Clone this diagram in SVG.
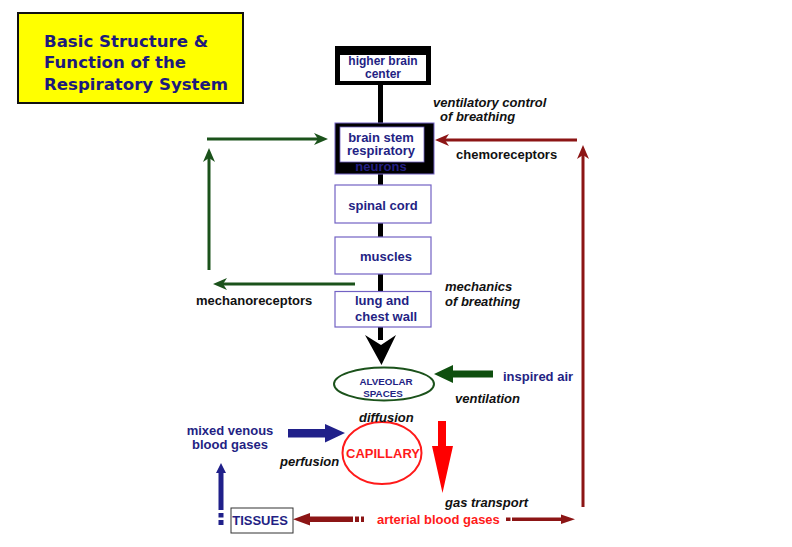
<svg xmlns="http://www.w3.org/2000/svg" width="792" height="547" viewBox="0 0 792 547">
<defs>
<style>
.t{font-family:"Liberation Sans",Arial,sans-serif;font-weight:bold;font-size:13px;}
.nv{fill:#241f84;}
.bk{fill:#111111;}
.it{font-style:italic;}
.rd{fill:#ff1a1a;}
.box{fill:#ffffff;stroke:#7262c4;stroke-width:1.2;}
.title{font-family:"DejaVu Sans",Verdana,sans-serif;font-weight:bold;font-size:16.6px;fill:#1d1a7c;}
.gl{stroke:#1b521b;stroke-width:3;fill:none;}
.rl{stroke:#8c1515;stroke-width:3;fill:none;}
</style>
<marker id="ag" viewBox="0 0 14 12" refX="4" refY="6" markerWidth="14" markerHeight="12" markerUnits="userSpaceOnUse" orient="auto">
<path d="M0,0 L14,6 L0,12 L4,6 z" fill="#1b521b"/>
</marker>
<marker id="ar" viewBox="0 0 14 12" refX="4" refY="6" markerWidth="14" markerHeight="12" markerUnits="userSpaceOnUse" orient="auto">
<path d="M0,0 L14,6 L0,12 L4,6 z" fill="#8c1515"/>
</marker>
</defs>
<rect width="792" height="547" fill="#ffffff"/>

<g id="title">
<rect x="18" y="13" width="225" height="90" fill="#ffff00" stroke="#111" stroke-width="2"/>
<text class="title" x="44" y="47">Basic Structure &amp;</text>
<text class="title" x="44" y="68">Function of the</text>
<text class="title" x="44" y="90">Respiratory System</text>
</g>

<g id="connectors">
<line x1="380.5" y1="85" x2="380.5" y2="340" stroke="#000" stroke-width="5"/>
<path d="M365,335 L381.5,365 L396,335 L381,345 z" fill="#000"/>
<path class="gl" d="M207,139 H318" marker-end="url(#ag)"/>
<path class="gl" d="M209,270 V158" marker-end="url(#ag)"/>
<path class="gl" d="M355,284 H223" marker-end="url(#ag)"/>
<path class="rl" d="M577,140 H445" marker-end="url(#ar)"/>
<path class="rl" d="M583,507 V155" marker-end="url(#ar)"/>
<polygon points="493,370.5 453,370.5 453,365 434,374 453,383 453,377.5 493,377.5" fill="#0f4f0f"/>
<polygon points="288,429 325,429 325,424 345,433 325,442.5 325,437.5 288,437.5" fill="#20208a"/>
<polygon points="218.5,510 218.5,473 216,473 221,463 226,473 223.5,473 223.5,510" fill="#20208a"/>
<rect x="218.5" y="513" width="5" height="4.5" fill="#20208a"/>
<rect x="218.5" y="520" width="5" height="5" fill="#20208a"/>
<polygon points="438,421 446,421 446,446 453,446 442.5,493 432,446 438,446" fill="#ff0000"/>
<polygon points="353,516.5 310,516.5 310,513 293,519.3 310,525.5 310,522 353,522" fill="#8c1515"/>
<rect x="355" y="516.5" width="4" height="5.5" fill="#8c1515"/>
<rect x="361" y="516.5" width="3" height="5.5" fill="#8c1515"/>
<rect x="506" y="517.5" width="4.5" height="3.5" fill="#8c1515"/>
<rect x="512" y="517.5" width="3" height="3.5" fill="#8c1515"/>
<polygon points="515,517.5 561,517.5 561,514.5 575,519.2 561,524 561,521 515,521" fill="#8c1515"/>
</g>

<g id="higher-brain-center">
<rect x="335" y="46" width="96" height="39" fill="#000"/>
<rect x="340" y="55" width="86" height="26" fill="#fff"/>
<text class="t nv" x="383" y="64.5" text-anchor="middle" style="font-size:12px">higher brain</text>
<text class="t nv" x="383" y="78" text-anchor="middle" style="font-size:12px">center</text>
</g>

<g id="brain-stem">
<rect x="335" y="123" width="99" height="51" fill="#000" stroke="#7262c4" stroke-width="1"/>
<rect x="340" y="127" width="84" height="35" fill="#fff" stroke="#7262c4" stroke-width="0.8"/>
<text class="t nv" x="381" y="141.5" text-anchor="middle">brain stem</text>
<text class="t nv" x="381" y="155" text-anchor="middle">respiratory</text>
<text class="t nv" x="381" y="170.5" text-anchor="middle">neurons</text>
</g>

<g id="spinal-cord">
<rect class="box" x="335" y="185" width="96" height="38"/>
<text class="t nv" x="383" y="209.5" text-anchor="middle">spinal cord</text>
</g>

<g id="muscles">
<rect class="box" x="335" y="237" width="96" height="37"/>
<text class="t nv" x="386" y="260.5" text-anchor="middle">muscles</text>
</g>

<g id="lung-chest-wall">
<rect class="box" x="335" y="291.5" width="96" height="35.5"/>
<text class="t nv" x="355" y="305">lung and</text>
<text class="t nv" x="355" y="321">chest wall</text>
</g>

<g id="alveolar-spaces">
<ellipse cx="384" cy="384" rx="50" ry="16.5" fill="#fff" stroke="#1b521b" stroke-width="2"/>
<text class="t nv" x="386" y="385" text-anchor="middle" style="font-size:9.8px">ALVEOLAR</text>
<text class="t nv" x="383" y="397" text-anchor="middle" style="font-size:9.8px">SPACES</text>
</g>

<g id="capillary">
<ellipse cx="382" cy="453" rx="39.5" ry="31" fill="#fff" stroke="#ff1a1a" stroke-width="2"/>
<text class="t rd" x="383" y="458" text-anchor="middle">CAPILLARY</text>
</g>

<g id="tissues">
<rect x="231" y="508" width="62" height="25" fill="#fff" stroke="#333" stroke-width="1"/>
<text class="t nv" x="260" y="525" text-anchor="middle">TISSUES</text>
</g>

<g id="labels">
<text class="t bk it" x="433" y="107">ventilatory control</text>
<text class="t bk it" x="440" y="121">of breathing</text>
<text class="t bk" x="456" y="159">chemoreceptors</text>
<text class="t bk" x="196" y="305">mechanoreceptors</text>
<text class="t bk it" x="445" y="290.5">mechanics</text>
<text class="t bk it" x="445" y="306">of breathing</text>
<text class="t nv" x="503" y="381">inspired air</text>
<text class="t bk it" x="455" y="402.5">ventilation</text>
<text class="t bk it" x="359" y="421.5">diffusion</text>
<text class="t nv" x="230" y="435" text-anchor="middle">mixed venous</text>
<text class="t nv" x="230" y="449" text-anchor="middle">blood gases</text>
<text class="t bk it" x="280" y="466">perfusion</text>
<text class="t bk it" x="445" y="507">gas transport</text>
<text class="t rd" x="377" y="523.5">arterial blood gases</text>
</g>
</svg>
